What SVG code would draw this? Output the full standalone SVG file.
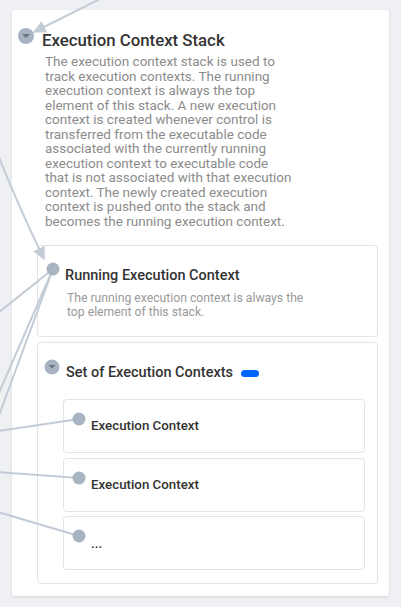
<svg xmlns="http://www.w3.org/2000/svg" width="401" height="607" viewBox="0 0 401 607">
<defs>
<marker id="arr" viewBox="0 0 10 10" refX="9" refY="5" markerWidth="13" markerHeight="13" markerUnits="userSpaceOnUse" orient="auto">
<path d="M0,0 L10,5 L0,10 z" fill="#c3ccd6"/>
</marker>
<filter id="sh" x="-5%" y="-5%" width="110%" height="110%">
<feDropShadow dx="0" dy="1" stdDeviation="1.2" flood-color="#000" flood-opacity="0.12"/>
</filter>
</defs>
<style>
text{font-family:Roboto,"Liberation Sans",sans-serif}
.t1{font-size:16.8px;font-weight:500;fill:#333}
.t2{font-size:14.5px;font-weight:500;fill:#333}
.t3{font-size:13.3px;font-weight:500;fill:#333}
.d1{font-size:13.5px;fill:#8c8c8c}
.d2{font-size:12.2px;fill:#9a9a9a}
.box{fill:#fff;stroke:#e3e3e3;stroke-width:1}
.dot{fill:#a9b4c2}
.car{fill:#6b7480}
.ln{fill:none;stroke:#c3ccd6;stroke-width:2}
</style>
<rect width="401" height="607" fill="#eef0f4"/>
<g id="stack">
<rect x="12" y="10" width="377" height="586" rx="3" fill="#fff" filter="url(#sh)"/>
<text class="t1" x="42" y="46">Execution Context Stack</text>
<text class="d1" x="45" y="66">The execution context stack is used to</text>
<text class="d1" x="45" y="80.5">track execution contexts. The running</text>
<text class="d1" x="45" y="95">execution context is always the top</text>
<text class="d1" x="45" y="109.5">element of this stack. A new execution</text>
<text class="d1" x="45" y="124">context is created whenever control is</text>
<text class="d1" x="45" y="138.5">transferred from the executable code</text>
<text class="d1" x="45" y="153">associated with the currently running</text>
<text class="d1" x="45" y="167.5">execution context to executable code</text>
<text class="d1" x="45" y="182">that is not associated with that execution</text>
<text class="d1" x="45" y="196.5">context. The newly created execution</text>
<text class="d1" x="45" y="211">context is pushed onto the stack and</text>
<text class="d1" x="45" y="225.5">becomes the running execution context.</text>
</g>
<g id="running">
<rect class="box" x="37.5" y="245.5" width="340" height="91" rx="3"/>
<text class="t2" x="65" y="280">Running Execution Context</text>
<text class="d2" x="67" y="302">The running execution context is always the</text>
<text class="d2" x="67" y="315.5">top element of this stack.</text>
</g>
<g id="set">
<rect class="box" x="37.5" y="342.5" width="340" height="241" rx="3"/>
<text class="t2" x="66" y="377">Set of Execution Contexts</text>
<rect x="241" y="370" width="18" height="7" rx="3.5" fill="#0066ff"/>
</g>
<g id="ec1">
<rect class="box" x="63.5" y="399.5" width="301" height="53" rx="3"/>
<text class="t3" x="91" y="430">Execution Context</text>
</g>
<g id="ec2">
<rect class="box" x="63.5" y="458.5" width="301" height="53" rx="3"/>
<text class="t3" x="91" y="489">Execution Context</text>
</g>
<g id="ec3">
<rect class="box" x="63.5" y="516.5" width="301" height="53" rx="3"/>
<text class="t3" x="91" y="548">...</text>
</g>
<g id="connectors">
<path class="ln" d="M102,-2 L34,32" marker-end="url(#arr)"/>
<path class="ln" d="M-4,150 Q20,210 44,259" marker-end="url(#arr)"/>
<path class="ln" d="M53,269 L-2,313" stroke="#c0c9d4"/>
<path class="ln" d="M53,269 L-2,418"/>
<path class="ln" d="M53,269 L-2,395"/>
<path class="ln" d="M79,419 L-2,431" stroke="#aab5c3"/>
<path class="ln" d="M79,478 L-2,472" stroke="#dfe5ec"/>
<path class="ln" d="M79,536 L-2,512" stroke="#dfe5ec"/>
</g>
<g id="ports">
<circle class="dot" cx="26" cy="36" r="8"/>
<path class="car" d="M22,34 L30,34 L26,38 z"/>
<circle class="dot" cx="53" cy="269" r="6.5"/>
<circle class="dot" cx="52" cy="367" r="7.5"/>
<path class="car" d="M48.5,365 L55.5,365 L52,368.5 z"/>
<circle class="dot" cx="79" cy="419" r="6.5"/>
<circle class="dot" cx="79" cy="478" r="6.5"/>
<circle class="dot" cx="79" cy="536" r="6.5"/>
</g>
</svg>
